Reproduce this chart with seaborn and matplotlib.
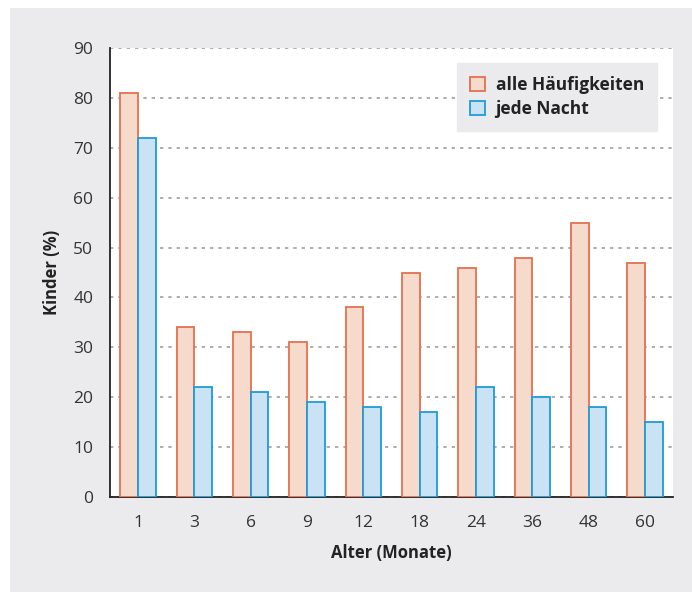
import matplotlib
matplotlib.use("Agg")
import matplotlib.pyplot as plt
from matplotlib.patches import Rectangle, Patch
import seaborn as sns
import pandas as pd
import numpy as np

# Age groups (months) and share of children (%) per group
ages = ["1", "3", "6", "9", "12", "18", "24", "36", "48", "60"]
alle_haeufigkeiten = [81, 34, 33, 31, 38, 45, 46, 48, 55, 47]
jede_nacht = [72, 22, 21, 19, 18, 17, 22, 20, 18, 15]
series_names = ["alle Häufigkeiten", "jede Nacht"]
y_ticks = [0, 10, 20, 30, 40, 50, 60, 70, 80, 90]

df = pd.DataFrame({
    "Alter": ages * 2,
    "Kinder": alle_haeufigkeiten + jede_nacht,
    "Reihe": [series_names[0]] * len(ages) + [series_names[1]] * len(ages),
})

sns.set_theme(style="white")
plt.rcParams["font.family"] = ["Open Sans", "DejaVu Sans"]

fill_colors = {series_names[0]: "#f6dacb", series_names[1]: "#c9e2f4"}
edge_colors = {series_names[0]: "#e5704f", series_names[1]: "#1f9bd7"}

W, H = 692, 592
fig = plt.figure(figsize=(W / 100, H / 100), dpi=100)
fig.patch.set_facecolor("white")
# grey panel behind the chart
fig.add_artist(Rectangle((10 / W, 0), 1 - 10 / W, 1 - 8 / H,
                         transform=fig.transFigure, facecolor="#ebebed",
                         edgecolor="none", zorder=-10))

ax = fig.add_axes([110 / W, 1 - 497 / H, (673 - 110) / W, (497 - 48) / H])
ax.set_facecolor("white")

sns.barplot(data=df, x="Alter", y="Kinder", hue="Reihe", order=ages,
            hue_order=series_names, palette=fill_colors, width=0.63,
            gap=0, dodge=True, ax=ax, legend=False, saturation=1)

for container, name in zip(ax.containers, series_names):
    for bar in container:
        bar.set_edgecolor(edge_colors[name])
        bar.set_linewidth(1.3)
        bar.set_zorder(3)

ax.set_xlim(-0.5, len(ages) - 0.5)
ax.set_ylim(0, 90)
ax.set_yticks(y_ticks)
ax.yaxis.grid(True, linestyle=(0, (2, 3)), color="#a0a0a0", linewidth=1.2)
ax.set_axisbelow(True)

for s in ["top", "right"]:
    ax.spines[s].set_visible(False)
for s in ["left", "bottom"]:
    ax.spines[s].set_color("#222222")
    ax.spines[s].set_linewidth(1.3)

ax.set_xticks(np.arange(len(ages)))
ax.set_xticklabels(ages)
ax.set_xticks(np.arange(len(ages) + 1) - 0.5, minor=True)
ax.tick_params(axis="x", which="major", length=0, pad=13, labelsize=12.5,
               labelcolor="#333333")
ax.tick_params(axis="x", which="minor", length=8, width=1.3, color="#222222",
               direction="out")
ax.tick_params(axis="y", length=8, width=1.3, color="#222222", pad=4,
               labelsize=12.5, labelcolor="#333333")

ax.set_xlabel("Alter (Monate)", fontsize=12, fontweight="bold",
              color="#222222", labelpad=9)
ax.set_ylabel("Kinder (%)", fontsize=12, fontweight="bold",
              color="#222222", labelpad=9)

handles = [Patch(facecolor=fill_colors[n], edgecolor=edge_colors[n],
                 linewidth=1.3, label=n) for n in series_names]
leg = ax.legend(handles=handles, loc="upper right",
                bbox_to_anchor=(657 / W, 1 - 63 / H),
                bbox_transform=fig.transFigure, borderaxespad=0,
                frameon=True, fancybox=False, facecolor="#ebebed",
                edgecolor="#ebebed", framealpha=1, borderpad=0.75,
                handlelength=0.9, handleheight=0.9, handletextpad=0.6,
                labelspacing=0.35, prop={"weight": "bold", "size": 12.5})
for t in leg.get_texts():
    t.set_color("#222222")

fig.savefig("out.png", dpi=100)
